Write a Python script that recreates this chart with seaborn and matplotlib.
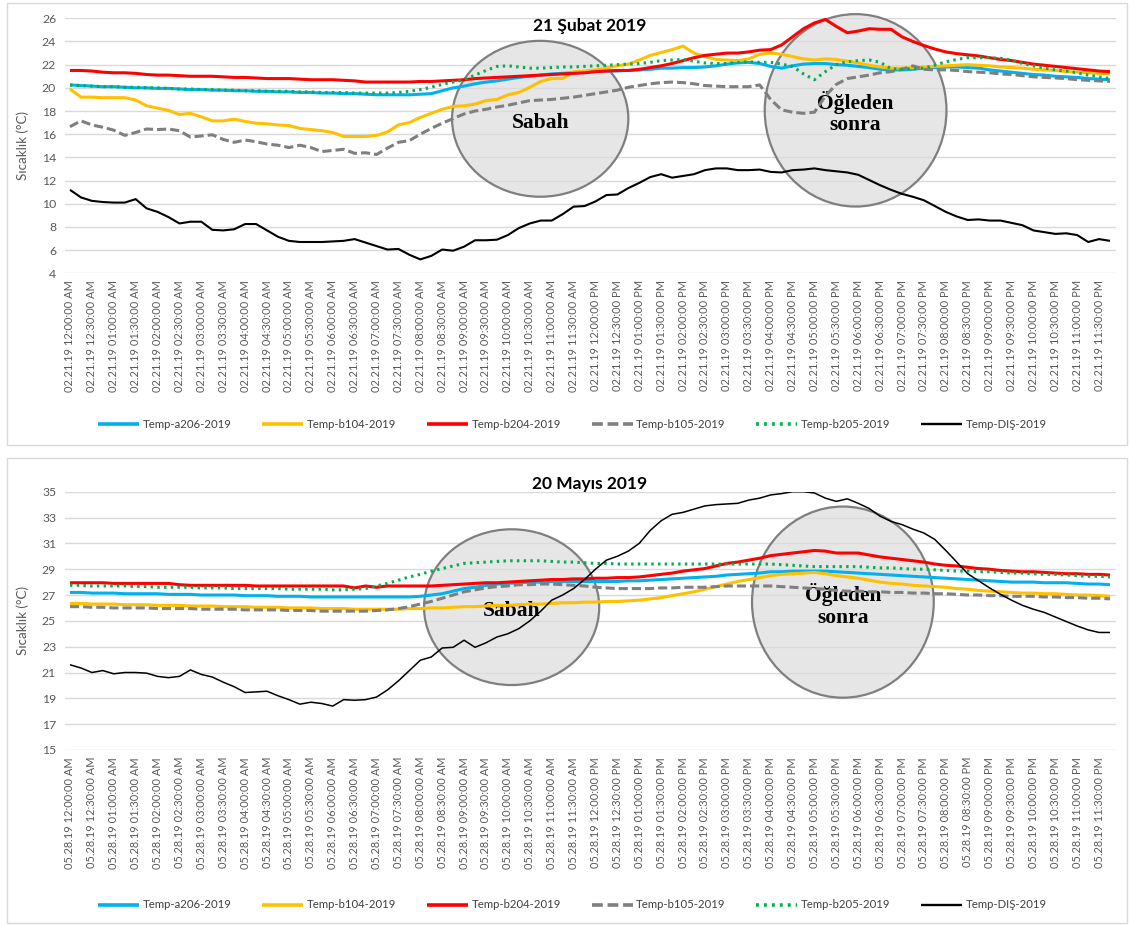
import matplotlib
matplotlib.use("Agg")
import matplotlib.pyplot as plt
import seaborn as sns
import pandas as pd
from matplotlib.patches import Ellipse, Rectangle
from matplotlib.lines import Line2D

# 15-minute logging slots over one day
slots = pd.date_range("2019-01-01 00:00", periods=96, freq="15min")
clock = [t.strftime("%I:%M:%S %p") for t in slots]
steps = list(range(96))

series_names = ["Temp-a206-2019", "Temp-b104-2019", "Temp-b204-2019",
                "Temp-b105-2019", "Temp-b205-2019", "Temp-DIŞ-2019"]

# ---- 21 February 2019 ----
feb_day = "02.21.19"
feb_title = "21 Şubat 2019"
feb_a206 = [20.25, 20.2, 20.15, 20.1, 20.1, 20.05, 20.0, 20.0,
            19.95, 19.95, 19.9, 19.85, 19.85, 19.8, 19.8, 19.75,
            19.75, 19.7, 19.7, 19.65, 19.65, 19.6, 19.6, 19.55,
            19.55, 19.5, 19.5, 19.45, 19.4, 19.4, 19.4, 19.4,
            19.45, 19.5, 19.75, 20.0, 20.15, 20.35, 20.5, 20.6,
            20.75, 20.9, 21.0, 21.1, 21.2, 21.25, 21.3, 21.35,
            21.4, 21.45, 21.45, 21.5, 21.55, 21.6, 21.7, 21.7,
            21.75, 21.75, 21.8, 21.9, 22.05, 22.15, 22.2, 22.1,
            21.85, 21.7, 21.9, 22.05, 22.1, 22.1, 22.0, 21.95,
            21.85, 21.75, 21.6, 21.55, 21.55, 21.6, 21.7, 21.75,
            21.8, 21.8, 21.75, 21.7, 21.55, 21.45, 21.35, 21.25,
            21.15, 21.1, 21.0, 20.95, 20.9, 20.8, 20.75, 20.7]
feb_b104 = [19.9, 19.2, 19.2, 19.15, 19.15, 19.15, 18.95, 18.45,
            18.25, 18.05, 17.7, 17.8, 17.5, 17.15, 17.15, 17.3,
            17.1, 16.95, 16.9, 16.8, 16.75, 16.5, 16.4, 16.3,
            16.15, 15.8, 15.8, 15.8, 15.9, 16.2, 16.8, 17.0,
            17.45, 17.8, 18.15, 18.4, 18.45, 18.6, 18.9, 19.0,
            19.4, 19.6, 20.05, 20.55, 20.8, 20.8, 21.4, 21.45,
            21.55, 21.7, 21.9, 22.05, 22.4, 22.8, 23.05, 23.3,
            23.6, 23.0, 22.7, 22.45, 22.4, 22.35, 22.5, 22.9,
            23.0, 22.9, 22.7, 22.5, 22.4, 22.5, 22.45, 22.3,
            22.15, 21.95, 21.8, 21.7, 21.7, 21.75, 21.8, 21.85,
            21.9, 21.95, 22.0, 21.95, 21.9, 21.8, 21.75, 21.7,
            21.6, 21.55, 21.5, 21.4, 21.35, 21.3, 21.25, 21.2]
feb_b204 = [21.5, 21.5, 21.45, 21.35, 21.3, 21.3, 21.25, 21.15,
            21.1, 21.1, 21.05, 21.0, 21.0, 21.0, 20.95, 20.9,
            20.9, 20.85, 20.8, 20.8, 20.8, 20.75, 20.7, 20.7,
            20.7, 20.65, 20.6, 20.5, 20.5, 20.5, 20.5, 20.5,
            20.55, 20.55, 20.6, 20.65, 20.7, 20.8, 20.85, 20.9,
            20.95, 21.0, 21.05, 21.1, 21.15, 21.2, 21.25, 21.3,
            21.4, 21.45, 21.5, 21.5, 21.6, 21.75, 21.9, 22.1,
            22.35, 22.6, 22.8, 22.9, 23.0, 23.0, 23.1, 23.25,
            23.3, 23.7, 24.4, 25.1, 25.6, 25.9, 25.3, 24.75,
            24.9, 25.1, 25.05, 25.05, 24.4, 24.0, 23.65, 23.35,
            23.1, 22.95, 22.85, 22.75, 22.6, 22.45, 22.35, 22.2,
            22.05, 21.95, 21.85, 21.75, 21.65, 21.55, 21.45, 21.4]
feb_b105 = [16.65, 17.15, 16.8, 16.6, 16.35, 15.9, 16.15, 16.45,
            16.4, 16.45, 16.3, 15.75, 15.85, 15.95, 15.55, 15.3,
            15.5, 15.35, 15.15, 15.05, 14.85, 15.05, 14.85, 14.5,
            14.6, 14.7, 14.35, 14.4, 14.25, 14.8, 15.3, 15.45,
            16.0, 16.5, 16.95, 17.35, 17.75, 18.0, 18.15, 18.35,
            18.5, 18.7, 18.9, 18.95, 19.0, 19.1, 19.2, 19.35,
            19.5, 19.65, 19.8, 20.05, 20.2, 20.35, 20.45, 20.5,
            20.45, 20.35, 20.2, 20.15, 20.1, 20.1, 20.1, 20.25,
            19.0, 18.1, 17.9, 17.8, 17.9, 19.3, 20.3, 20.8,
            20.95, 21.1, 21.3, 21.4, 21.6, 21.9, 21.6, 21.55,
            21.55, 21.5, 21.4, 21.35, 21.3, 21.2, 21.15, 21.05,
            20.95, 20.9, 20.85, 20.8, 20.7, 20.65, 20.6, 20.55]
feb_b205 = [20.25, 20.2, 20.15, 20.1, 20.1, 20.05, 20.05, 20.0,
            20.0, 19.95, 19.9, 19.9, 19.85, 19.85, 19.8, 19.8,
            19.75, 19.75, 19.7, 19.7, 19.7, 19.65, 19.65, 19.6,
            19.6, 19.6, 19.55, 19.55, 19.55, 19.55, 19.6, 19.7,
            19.85, 20.05, 20.3, 20.5, 20.7, 21.1, 21.5, 21.85,
            21.9, 21.8, 21.7, 21.7, 21.75, 21.8, 21.8, 21.85,
            21.9, 21.95, 22.0, 22.05, 22.1, 22.2, 22.35, 22.4,
            22.45, 22.3, 22.15, 22.1, 22.1, 22.2, 22.25, 22.2,
            22.2, 22.05, 21.85, 21.2, 20.7, 21.4, 22.0, 22.25,
            22.35, 22.4, 22.2, 21.65, 21.6, 21.65, 21.7, 21.95,
            22.25, 22.45, 22.6, 22.6, 22.6, 22.55, 22.4, 22.1,
            21.9, 21.7, 21.55, 21.45, 21.3, 21.1, 20.95, 20.8]
feb_dis = [11.2, 10.55, 10.25, 10.15, 10.1, 10.1, 10.4, 9.6,
           9.3, 8.85, 8.3, 8.45, 8.45, 7.75, 7.7, 7.8,
           8.25, 8.25, 7.7, 7.15, 6.8, 6.7, 6.7, 6.7,
           6.75, 6.8, 6.95, 6.65, 6.35, 6.05, 6.1, 5.6,
           5.2, 5.5, 6.05, 5.95, 6.3, 6.85, 6.85, 6.9,
           7.3, 7.9, 8.3, 8.55, 8.55, 9.1, 9.75, 9.8,
           10.2, 10.75, 10.8, 11.35, 11.8, 12.3, 12.55, 12.25,
           12.4, 12.55, 12.9, 13.05, 13.05, 12.9, 12.9, 12.95,
           12.75, 12.7, 12.9, 12.95, 13.05, 12.9, 12.8, 12.7,
           12.5, 12.05, 11.6, 11.2, 10.85, 10.6, 10.3, 9.8,
           9.3, 8.9, 8.6, 8.65, 8.55, 8.55, 8.35, 8.15,
           7.7, 7.55, 7.4, 7.45, 7.3, 6.7, 6.95, 6.8]

# ---- 20 May 2019 ----
may_day = "05.28.19"
may_title = "20 Mayıs 2019"
may_a206 = [27.2, 27.2, 27.15, 27.15, 27.15, 27.1, 27.1, 27.1,
            27.1, 27.05, 27.05, 27.05, 27.0, 27.0, 27.0, 27.0,
            26.95, 26.95, 26.95, 26.9, 26.9, 26.9, 26.85, 26.85,
            26.85, 26.85, 26.85, 26.85, 26.85, 26.85, 26.85, 26.85,
            26.9, 27.0, 27.1, 27.3, 27.5, 27.6, 27.75, 27.85,
            27.9, 27.95, 28.0, 28.0, 28.05, 28.05, 28.05, 28.05,
            28.05, 28.05, 28.05, 28.1, 28.1, 28.15, 28.2, 28.25,
            28.3, 28.35, 28.4, 28.45, 28.55, 28.6, 28.65, 28.7,
            28.8, 28.8, 28.85, 28.85, 28.85, 28.85, 28.8, 28.75,
            28.7, 28.65, 28.6, 28.55, 28.5, 28.45, 28.4, 28.35,
            28.3, 28.25, 28.2, 28.15, 28.1, 28.05, 28.0, 28.0,
            28.0, 27.95, 27.95, 27.95, 27.9, 27.85, 27.85, 27.8]
may_b104 = [26.35, 26.35, 26.3, 26.3, 26.3, 26.25, 26.25, 26.25,
            26.2, 26.2, 26.2, 26.15, 26.15, 26.15, 26.1, 26.1,
            26.1, 26.05, 26.05, 26.05, 26.0, 26.0, 26.0, 25.95,
            25.95, 25.95, 25.9, 25.9, 25.9, 25.9, 25.9, 25.95,
            25.95, 26.0, 26.0, 26.05, 26.1, 26.1, 26.15, 26.2,
            26.2, 26.25, 26.3, 26.3, 26.35, 26.4, 26.4, 26.45,
            26.45, 26.5, 26.5, 26.55, 26.6, 26.7, 26.8, 26.95,
            27.1, 27.25, 27.45, 27.65, 27.85, 28.05, 28.2, 28.35,
            28.5, 28.6, 28.65, 28.7, 28.75, 28.65, 28.5, 28.4,
            28.3, 28.15, 28.0, 27.9, 27.85, 27.75, 27.7, 27.65,
            27.6, 27.5, 27.45, 27.35, 27.3, 27.25, 27.2, 27.15,
            27.15, 27.1, 27.1, 27.05, 27.0, 27.0, 26.95, 26.9]
may_b204 = [27.95, 27.95, 27.95, 27.95, 27.9, 27.9, 27.9, 27.9,
            27.9, 27.9, 27.8, 27.75, 27.75, 27.75, 27.75, 27.75,
            27.75, 27.7, 27.7, 27.7, 27.7, 27.7, 27.7, 27.7,
            27.7, 27.7, 27.55, 27.7, 27.6, 27.7, 27.7, 27.7,
            27.7, 27.7, 27.75, 27.8, 27.85, 27.9, 27.95, 27.95,
            28.0, 28.05, 28.1, 28.15, 28.2, 28.2, 28.25, 28.25,
            28.3, 28.3, 28.35, 28.35, 28.4, 28.5, 28.6, 28.7,
            28.85, 28.95, 29.05, 29.25, 29.45, 29.55, 29.7, 29.85,
            30.05, 30.15, 30.25, 30.35, 30.45, 30.4, 30.25, 30.25,
            30.25, 30.1, 29.95, 29.85, 29.75, 29.65, 29.55, 29.4,
            29.3, 29.25, 29.15, 29.05, 29.0, 28.9, 28.85, 28.8,
            28.8, 28.75, 28.7, 28.65, 28.65, 28.6, 28.6, 28.55]
may_b105 = [26.1, 26.1, 26.05, 26.05, 26.0, 26.0, 26.0, 26.0,
            25.95, 25.95, 25.95, 25.95, 25.9, 25.9, 25.9, 25.9,
            25.85, 25.85, 25.85, 25.85, 25.8, 25.8, 25.8, 25.75,
            25.75, 25.75, 25.75, 25.75, 25.8, 25.85, 25.95, 26.1,
            26.3, 26.5, 26.75, 27.0, 27.25, 27.4, 27.55, 27.65,
            27.7, 27.8, 27.8, 27.85, 27.85, 27.8, 27.75, 27.7,
            27.6, 27.55, 27.5, 27.5, 27.5, 27.5, 27.55, 27.55,
            27.6, 27.6, 27.6, 27.65, 27.7, 27.7, 27.7, 27.7,
            27.7, 27.65, 27.6, 27.55, 27.5, 27.45, 27.35, 27.3,
            27.3, 27.25, 27.25, 27.2, 27.2, 27.15, 27.15, 27.1,
            27.1, 27.05, 27.0, 27.0, 26.95, 26.95, 26.9, 26.9,
            26.9, 26.85, 26.85, 26.8, 26.8, 26.75, 26.75, 26.7]
may_b205 = [27.75, 27.75, 27.7, 27.7, 27.7, 27.7, 27.65, 27.65,
            27.6, 27.6, 27.6, 27.6, 27.55, 27.55, 27.55, 27.5,
            27.5, 27.5, 27.5, 27.5, 27.45, 27.45, 27.45, 27.45,
            27.4, 27.4, 27.45, 27.5, 27.7, 27.9, 28.15, 28.4,
            28.6, 28.85, 29.05, 29.25, 29.45, 29.5, 29.55, 29.6,
            29.65, 29.65, 29.65, 29.65, 29.6, 29.55, 29.55, 29.5,
            29.45, 29.45, 29.4, 29.4, 29.4, 29.4, 29.4, 29.4,
            29.4, 29.4, 29.4, 29.4, 29.4, 29.4, 29.4, 29.4,
            29.4, 29.35, 29.3, 29.25, 29.2, 29.2, 29.2, 29.2,
            29.2, 29.15, 29.1, 29.1, 29.05, 29.0, 29.0, 28.95,
            28.9, 28.85, 28.85, 28.8, 28.8, 28.75, 28.7, 28.7,
            28.65, 28.6, 28.6, 28.55, 28.5, 28.45, 28.45, 28.4]
may_dis = [21.6, 21.35, 21.0, 21.15, 20.9, 21.0, 21.0, 20.95,
           20.7, 20.6, 20.7, 21.2, 20.85, 20.65, 20.25, 19.9,
           19.45, 19.5, 19.55, 19.2, 18.9, 18.55, 18.7, 18.6,
           18.4, 18.9, 18.85, 18.9, 19.1, 19.65, 20.35, 21.15,
           21.95, 22.2, 22.9, 22.95, 23.5, 22.95, 23.3, 23.75,
           24.0, 24.4, 25.0, 25.75, 26.6, 27.0, 27.5, 28.2,
           29.0, 29.7, 30.0, 30.4, 31.0, 32.0, 32.75, 33.25,
           33.4, 33.65, 33.9, 34.0, 34.05, 34.1, 34.35, 34.5,
           34.75, 34.85, 35.0, 35.0, 34.9, 34.5, 34.25, 34.45,
           34.1, 33.7, 33.1, 32.7, 32.45, 32.1, 31.8, 31.3,
           30.45, 29.55, 28.65, 28.1, 27.55, 27.05, 26.6, 26.2,
           25.9, 25.65, 25.3, 24.95, 24.6, 24.3, 24.1, 24.1]

# Line appearance per logger
styles = {
    "Temp-a206-2019": dict(color="#00B0F0", linewidth=2.2, linestyle="-"),
    "Temp-b104-2019": dict(color="#FFC000", linewidth=2.2, linestyle="-"),
    "Temp-b204-2019": dict(color="#FF0000", linewidth=2.2, linestyle="-"),
    "Temp-b105-2019": dict(color="#7F7F7F", linewidth=2.2, linestyle=(0, (3.0, 1.3))),
    "Temp-b205-2019": dict(color="#00B050", linewidth=2.2, linestyle=(0, (0.8, 1.4))),
    "Temp-DIŞ-2019": dict(color="black", linewidth=1.5, linestyle="-"),
}

sns.set_theme(style="white")
plt.rcParams["font.family"] = ["Lato", "DejaVu Sans"]

W, H = 1129, 926
fig = plt.figure(figsize=(W / 100, H / 100), dpi=100)
fig.patch.set_facecolor("white")

# chart-area frames
for (x0, y0, x1, y1) in [(7, 3, 1127, 445), (7, 458, 1127, 923)]:
    fig.add_artist(Rectangle((x0 / W, 1 - y1 / H), (x1 - x0) / W, (y1 - y0) / H,
                             transform=fig.transFigure, fill=False,
                             edgecolor="#D9D9D9", linewidth=1.0))

ax_feb = fig.add_axes([64.5 / W, 1 - 273.3 / H, 1051 / W, 255 / H])
ax_may = fig.add_axes([64.5 / W, 1 - 750 / H, 1051 / W, 258.3 / H])

panels = [
    dict(ax=ax_feb, day=feb_day, title=feb_title, title_y=0.968,
         values=[feb_a206, feb_b104, feb_b204, feb_b105, feb_b205, feb_dis],
         ylim=(4, 26), yticks=range(4, 27, 2), dis_lw=1.5, legend_y=1 - 424 / H,
         bubbles=[(42.95, 17.33, 16.1, 13.45, "Sabah", 17.0),
                  (71.76, 18.06, 16.6, 16.6, "Öğleden\nsonra", 17.85)]),
    dict(ax=ax_may, day=may_day, title=may_title, title_y=1.03,
         values=[may_a206, may_b104, may_b204, may_b105, may_b205, may_dis],
         ylim=(15, 35), yticks=range(15, 36, 2), dis_lw=1.1, legend_y=1 - 905 / H,
         bubbles=[(40.34, 26.06, 16.0, 12.06, "Sabah", 25.8),
                  (70.6, 26.45, 16.6, 14.8, "Öğleden\nsonra", 26.2)]),
]

for p in panels:
    ax = p["ax"]
    ax.set_facecolor("white")
    for name, vals in zip(series_names, p["values"]):
        st = dict(styles[name])
        if name == "Temp-DIŞ-2019":
            st["linewidth"] = p["dis_lw"]
        sns.lineplot(x=steps, y=vals, ax=ax, errorbar=None, zorder=5,
                     solid_capstyle="butt", **st)

    # highlighted periods
    for cx, cy, w, h, label, ty in p["bubbles"]:
        ax.add_patch(Ellipse((cx, cy), w, h, facecolor="#DCDCDC", alpha=0.7,
                             edgecolor="none", zorder=2, clip_on=False))
        ax.add_patch(Ellipse((cx, cy), w, h, facecolor="none",
                             edgecolor="#7F7F7F", linewidth=1.6, zorder=3,
                             clip_on=False))
        ax.text(cx, ty, label, ha="center", va="center", zorder=4,
                family="Liberation Serif", fontweight="bold", fontsize=15.5,
                linespacing=1.1, color="black")

    ax.set_xlim(-0.5, 95.5)
    ax.set_ylim(*p["ylim"])
    ax.set_yticks(list(p["yticks"]))
    ax.set_xticks(steps[::2])
    ax.set_xticklabels([f"{p['day']} {clock[i]}" for i in steps[::2]],
                       rotation=90, fontsize=7.9, color="#595959")
    ax.tick_params(axis="y", labelsize=8.8, labelcolor="#595959", length=0, pad=6)
    ax.tick_params(axis="x", length=0, pad=5)
    ax.grid(axis="y", color="#D9D9D9", linewidth=1.0, zorder=0)
    ax.grid(axis="x", visible=False)
    for s in ax.spines.values():
        s.set_visible(False)
    ax.set_xlabel("")
    ax.set_ylabel("Sıcaklık (°C)", fontsize=9.6, color="#595959")
    ax.yaxis.set_label_coords(-0.034, 0.5)
    ax.text(0.5, p["title_y"], p["title"], transform=ax.transAxes, ha="center",
            va="center", fontsize=12.5, fontweight="bold", color="black", zorder=6)

    handles = []
    for name in series_names:
        st = dict(styles[name])
        if name == "Temp-DIŞ-2019":
            st["linewidth"] = 1.7
        else:
            st["linewidth"] = 2.6
        handles.append(Line2D([0], [0], solid_capstyle="butt", **st))
    fig.legend(handles, series_names, loc="center", ncol=6, frameon=False,
               bbox_to_anchor=(0.507, p["legend_y"]), fontsize=8.2,
               handlelength=3.6, handletextpad=0.3, columnspacing=2.7,
               labelcolor="#404040")

fig.savefig("out.png", dpi=100, facecolor="white")
